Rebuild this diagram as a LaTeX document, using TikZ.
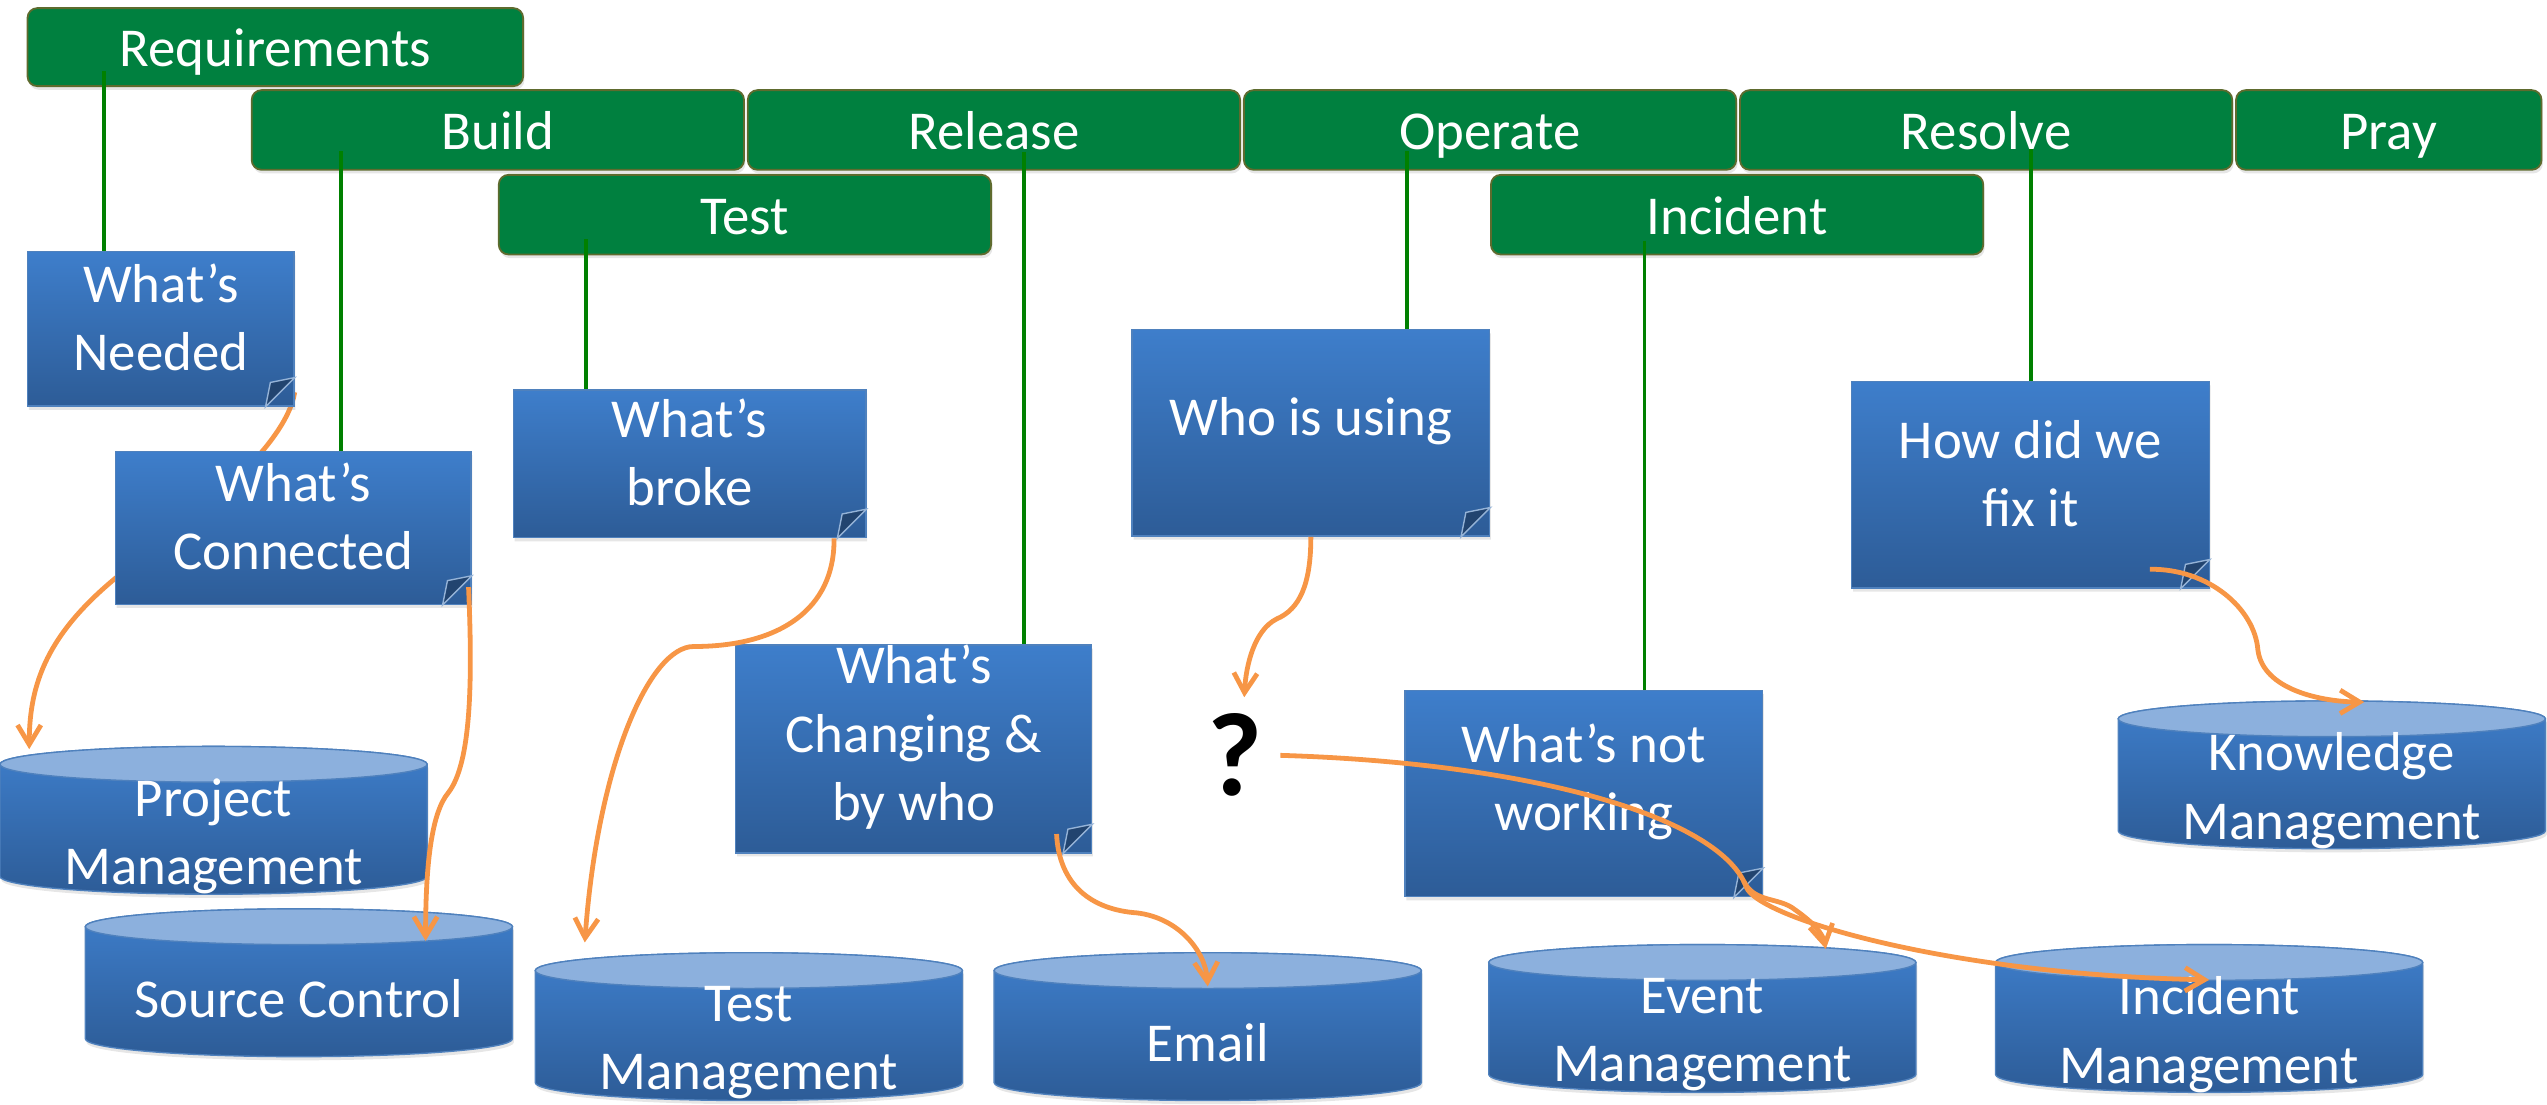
\documentclass[tikz,border=0pt]{standalone}
\usepackage{fontspec}
\setmainfont{Carlito}
\usetikzlibrary{arrows.meta, positioning, calc, shapes.misc, shadows, backgrounds}

\definecolor{phasegreen}{HTML}{00803F}
\definecolor{phaseedge}{HTML}{5E6B2E}
\definecolor{stemgreen}{HTML}{008000}
\definecolor{notetop}{HTML}{3E7ECB}
\definecolor{notebot}{HTML}{2D5C97}
\definecolor{noteedge}{HTML}{4F81BD}
\definecolor{eardark}{HTML}{22446F}
\definecolor{lidblue}{HTML}{8CB0DD}
\definecolor{linkorange}{HTML}{F79646}

\newcommand{\labelfont}{\fontsize{24}{30}\selectfont}

\tikzset{
  phase/.style = {draw=phaseedge, line width=0.8pt, fill=phasegreen, rounded corners=0.15cm,
    minimum width=7.575cm, minimum height=1.225cm, text=white, font=\labelfont,
    text height=17pt, text depth=0pt,
    drop shadow={opacity=0.2, shadow xshift=0.6pt, shadow yshift=-1.6pt}},
  note/.style = {chamfered rectangle, chamfered rectangle corners=south east,
    chamfered rectangle sep=0.45cm, draw=noteedge, line width=0.6pt,
    top color=notetop, bottom color=notebot, inner sep=0pt,
    drop shadow={opacity=0.2, shadow xshift=0.6pt, shadow yshift=-1.6pt}},
  notetext/.style = {text=white, font=\labelfont, align=center, yshift=5pt},
  ear/.style = {draw=noteedge!60!white, line width=0.6pt, fill=eardark},
  drumbody/.style = {draw=noteedge, line width=0.6pt, top color=notetop, bottom color=notebot,
    drop shadow={opacity=0.2, shadow xshift=0.6pt, shadow yshift=-1.6pt}},
  lid/.style = {draw=noteedge, line width=0.6pt, fill=lidblue},
  drum/.style = {rectangle, minimum width=6.575cm, minimum height=2.275cm, inner sep=0pt},
  drumtext/.style = {text=white, font=\labelfont, align=center, yshift=-7pt},
  stem/.style = {draw=stemgreen, line width=1.7pt},
  link/.style = {draw=linkorange, line width=2.1pt, -{Straight Barb[length=0.3cm, width=0.36cm]}},
}

\newcommand{\dogear}[1]{%
  \filldraw[ear] ($(#1.east |- #1.south)+(0,18)$) -- ($(#1.east |- #1.south)+(-18,0)$)
    -- ($(#1.east |- #1.south)+(-15,15)$) -- cycle;}

% name, x, y, text
\newcommand{\drum}[4]{%
  \shadedraw[drumbody] (#2-131.5,#3+34.5) -- (#2-131.5,#3-34.5)
    arc[start angle=180, end angle=360, x radius=131.5, y radius=11]
    -- (#2+131.5,#3+34.5)
    arc[start angle=0, end angle=180, x radius=131.5, y radius=11] -- cycle;
  \filldraw[lid] (#2,#3+34.5) ellipse [x radius=131.5, y radius=11];
  \node[drum, label={[drumtext]center:#4}] (#1) at (#2,#3) {};}

\begin{document}
\begin{tikzpicture}[x=0.025cm, y=0.025cm]
\useasboundingbox (0,0) rectangle (1568,-680);

% phases
\node[phase, minimum width=7.625cm, minimum height=1.2cm] (req) at (169.5,-29) {Requirements};
\node[phase] (build) at (306.5,-80) {Build};
\node[phase, right=0.03cm of build] (release) {Release};
\node[phase, right=0.03cm of release] (operate) {Operate};
\node[phase, right=0.03cm of operate] (resolve) {Resolve};
\node[phase, right=0.03cm of resolve, minimum width=4.7cm] (pray) {Pray};
\node[phase, below=0.05cm of build.south east] (test) {Test};
\node[phase, below=0.05cm of operate.south east] (incident) {Incident};

% notes
\node[note, minimum width=4.1cm, minimum height=2.375cm, label={[notetext]center:What’s\\Needed}] (needed) at (99,-202.5) {};
\dogear{needed}
\node[note, minimum width=5.475cm, minimum height=2.35cm, label={[notetext]center:What’s\\Connected}] (connected) at (180.5,-325) {};
\dogear{connected}
\node[note, minimum width=5.425cm, minimum height=2.275cm, label={[notetext]center:What’s\\broke}] (broke) at (424.5,-285.5) {};
\dogear{broke}
\node[note, minimum width=5.5cm, minimum height=3.175cm, label={[notetext]center:Who is using}] (who) at (807,-266.5) {};
\dogear{who}
\node[note, minimum width=5.475cm, minimum height=3.2cm, label={[notetext]center:What’s\\Changing \&\\by who}] (changing) at (562.5,-461) {};
\dogear{changing}
\node[note, minimum width=5.5cm, minimum height=3.175cm, label={[notetext]center:What’s not\\working}] (notworking) at (975,-488.5) {};
\dogear{notworking}
\node[note, minimum width=5.5cm, minimum height=3.175cm, label={[notetext]center:How did we\\fix it}] (fix) at (1250,-298.5) {};
\dogear{fix}

% stores
\drum{pm}{131.5}{-505}{Project\\Management}
\drum{sc}{184}{-605}{Source Control}
\drum{tm}{461}{-632}{Test\\Management}
\drum{email}{743.5}{-632}{Email}
\drum{em}{1048}{-627}{Event\\Management}
\drum{im}{1360}{-627}{Incident\\Management}
\drum{km}{1435.5}{-477}{Knowledge\\Management}

\node[font=\fontsize{52}{60}\selectfont\bfseries, inner sep=0pt] (q) at (760,-465) {?};

% stems
\draw[stem] (req.center) ++(-105.5,-15) coordinate (s) -- (s |- needed.north);
\draw[stem] (build.center) ++(-96.5,-13) coordinate (s) -- (s |- connected.north);
\draw[stem] (test.center) ++(-98,-15) coordinate (s) -- (s |- broke.north);
\draw[stem] (release.center) ++(18.5,-13.5) coordinate (s) -- (s |- changing.north);
\draw[stem] (operate.center) ++(-51,-13) coordinate (s) -- (s |- who.north);
\draw[stem] (incident.center) ++(-57,-16) coordinate (s) -- (s |- notworking.north);
\draw[stem] (resolve.center) ++(27.5,-12) coordinate (s) -- (s |- fix.north);

% links
\begin{pgfonlayer}{background}
\draw[link] ($(needed.east |- needed.south)+(0,9)$) .. controls (176,-275) and (120,-320) .. (71,-356)
  .. controls (30,-390) and (18,-420) .. ($(pm.north)+(-113.5,-2)$);
\end{pgfonlayer}
\draw[link] ($(connected.east |- connected.south)+(-2,11)$) .. controls (291,-420) and (290,-470) .. (276,-488)
  .. controls (266,-500) and (262,-530) .. ($(sc.north)+(78,-20)$);
\draw[link] ($(broke.east |- broke.south)+(-20,0)$) .. controls (514,-375) and (480,-398) .. (427,-398)
  .. controls (400,-398) and (368,-470) .. ($(tm.north)+(-101,6)$);
\draw[link] ($(changing.east |- changing.south)+(-22,12)$) .. controls (652,-545) and (672,-560) .. (700,-562)
  .. controls (725,-565) and (742,-585) .. ($(email.north)+(0,-21)$);
\draw[link] (who.south) .. controls (807,-360) and (800,-375) .. (786,-381)
  .. controls (772,-388) and (767,-410) .. ($(q.north)+(6,10)$);
\draw[link] ($(q.east)+(11,0)$) .. controls (950,-470) and (1060,-505) .. (1075,-546)
  .. controls (1082,-565) and (1200,-600) .. ($(im.north)+(0,-22)$);
\draw[link] ($(notworking.east |- notworking.south)+(-12,10)$) .. controls (1080,-556) and (1095,-552) .. (1105,-560)
  .. controls (1115,-567) and (1122,-574) .. ($(em.north)+(76,-3)$);
\draw[link] ($(fix.east |- fix.south)+(-37,12)$) .. controls (1360,-350) and (1388,-375) .. (1390,-400)
  .. controls (1393,-425) and (1430,-432) .. ($(km.north)+(20,-1)$);
\end{tikzpicture}
\end{document}
